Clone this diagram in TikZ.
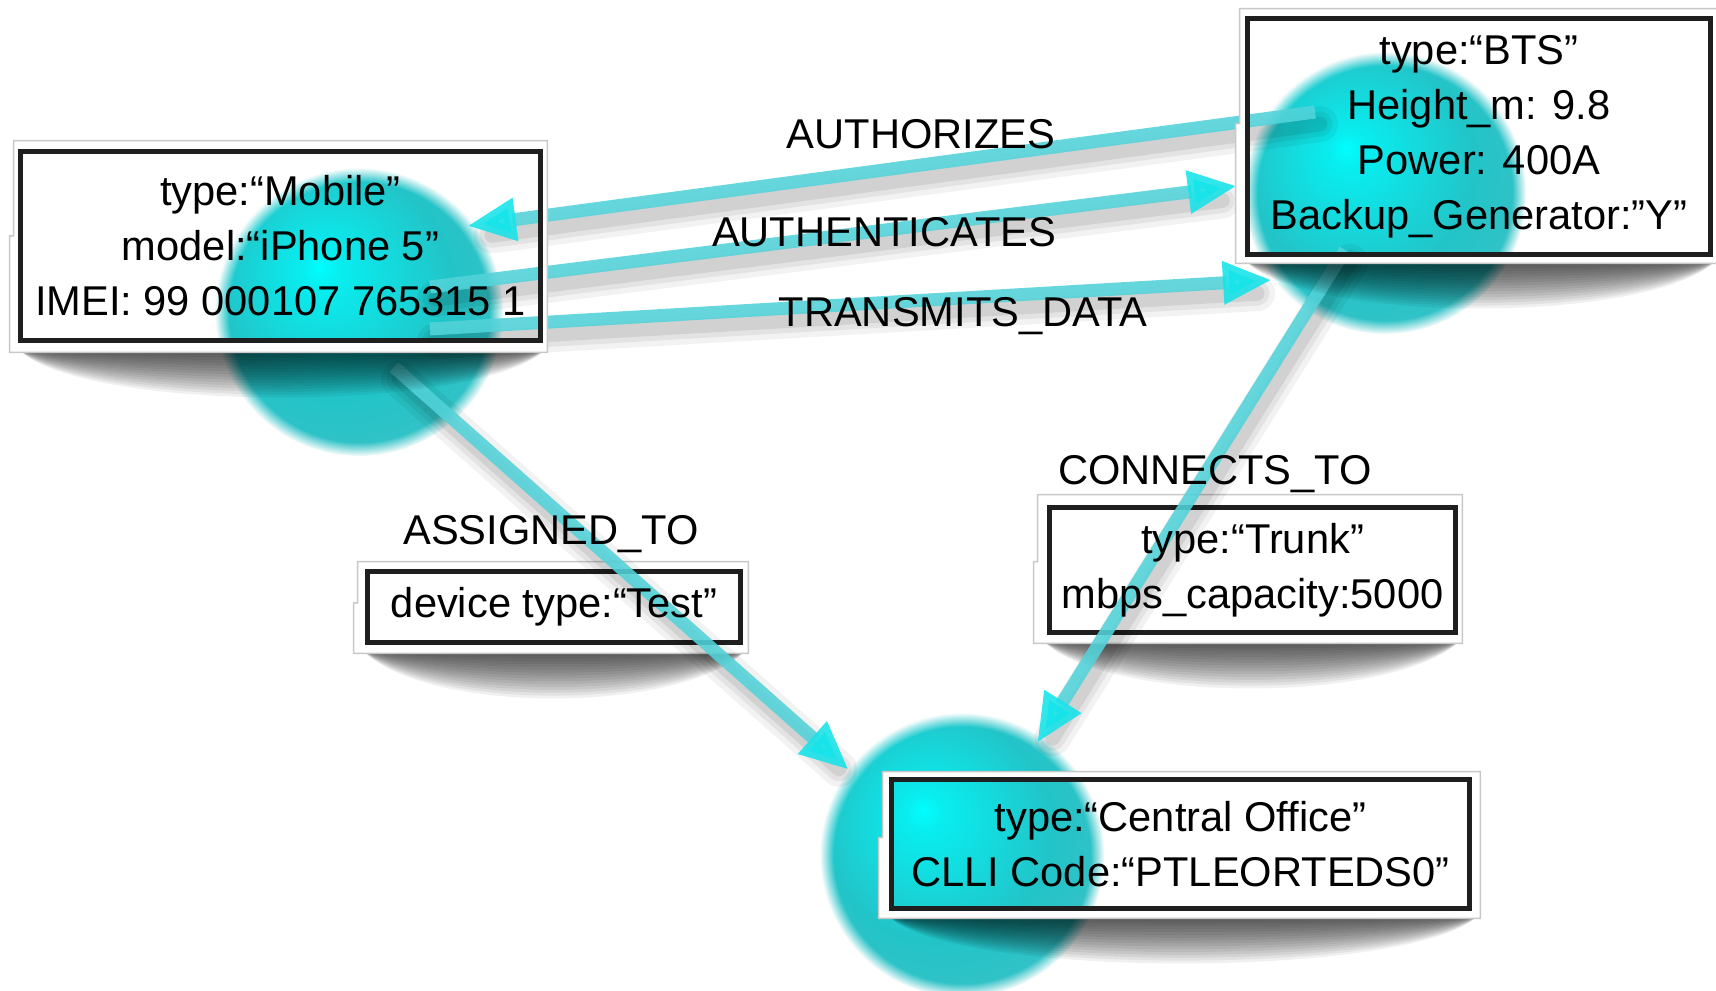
\documentclass[tikz,border=0pt]{standalone}
\usepackage{fontspec}
\setmainfont{Liberation Sans}
\usetikzlibrary{arrows.meta,fadings,calc}

\definecolor{ballhi}{RGB}{0,255,255}
\definecolor{ballhi2}{RGB}{8,238,240}
\definecolor{ballmid}{RGB}{34,196,200}
\definecolor{ballrim}{RGB}{78,190,195}
\definecolor{lnc}{RGB}{82,212,218}
\definecolor{headc}{RGB}{22,228,233}
\definecolor{framegray}{RGB}{200,200,200}

% glossy ball: small highlight up and to the left of the centre
\pgfdeclareradialshading{ballshade}{\pgfpoint{-7bp}{8bp}}{%
  color(0bp)=(ballhi); color(3bp)=(ballhi2); color(20bp)=(ballmid);
  color(42bp)=(ballrim); color(50bp)=(ballrim)}

\pgfdeclarelayer{balls}
\pgfdeclarelayer{props}
\pgfdeclarelayer{links}
\pgfdeclarelayer{frames}
\pgfsetlayers{balls,props,links,frames,main}

% #1 card node, #2..#5 extra white margin left, top, right, bottom (px)
\newcommand{\cardframe}[5]{%
  \coordinate (#1onw) at ($(#1.north west)+(-#2,-#3)$);
  \coordinate (#1ose) at ($(#1.south east)+(#4,#5)$);
  \coordinate (#1osw) at (#1onw |- #1ose);
  \coordinate (#1one) at (#1onw -| #1ose);
  \coordinate (#1nk) at ($(#1onw)!0.45!(#1osw)$);
  % soft shadow under the card: stacked lenses, darkest next to the card
  \foreach \k in {1,...,16}{
    \fill[black, opacity=0.06]
      ($(#1osw)+(6,-2)$) -- ($(#1ose)+(-3,-2)$)
      .. controls ($(#1ose)+(-70,3.8*\k)$) and ($(#1osw)+(70,3.8*\k)$) .. ($(#1osw)+(6,-2)$) -- cycle;
  }
  % white card with a small step on its left side, open in the middle
  \fill[white, even odd rule]
    (#1onw) -- (#1one) -- (#1ose) -- ($(#1osw)+(-4,0)$) -- ($(#1nk)+(-4,0)$) -- (#1nk) -- cycle
    (#1.north west) rectangle (#1.south east);
  \draw[framegray, line width=0.03cm]
    (#1onw) -- (#1one) -- (#1ose) -- ($(#1osw)+(-4,0)$) -- ($(#1nk)+(-4,0)$) -- (#1nk) -- cycle;
  \draw[black!88, line width=0.09cm] (#1.north west) rectangle (#1.south east);
}

\newcommand{\glossyball}[2]{%
  \shade[shading=ballshade, path fading=circle with fuzzy edge 10 percent]
    (#1) circle[radius=#2];
}

\begin{document}
\begin{tikzpicture}[x=0.02cm, y=-0.02cm,
  every node/.style={inner sep=0pt, font=\fontsize{23.7}{31.3}\selectfont},
  card/.style={align=center},
  tag/.style={anchor=base},
  link/.style={draw=lnc, line width=0.26cm, opacity=0.88,
     -{Triangle[length=0.98cm, width=0.8cm, color=headc]}},
  linkshadow/.style={draw=black, line cap=round, shorten >=0.4cm,
     transform canvas={shift={(0.1cm,-0.24cm)}}}]

\useasboundingbox (0,0) rectangle (1716,990);

% property cards
\node[card, minimum width=10.38cm, minimum height=3.76cm] (mobile) at (280.5,246)
  {type:“Mobile”\\model:“iPhone 5”\\IMEI: 99 000107 765315 1};
\node[card, minimum width=9.24cm, minimum height=4.7cm] (bts) at (1479,136.5)
  {type:“BTS”\\Height\_m: 9.8\\Power: 400A\\Backup\_Generator:”Y”};
\node[card, minimum width=11.54cm, minimum height=2.56cm] (co) at (1180.5,844)
  {type:“Central Office”\\CLLI Code:“PTLEORTEDS0”};
\node[card, minimum width=7.44cm, minimum height=1.4cm] (dev) at (554,607)
  {device type:“Test”};
\node[card, minimum width=8.1cm, minimum height=2.48cm] (trunk) at (1252.5,570)
  {type:“Trunk”\\mbps\_capacity:5000};

% relationship names
\node[tag] (authzlbl) at (921,148) {AUTHORIZES};
\node[tag] (authnlbl) at (884,246) {AUTHENTICATES};
\node[tag] (translbl) at (963,326) {TRANSMITS\_DATA};
\node[tag] (assignlbl) at (551,544) {ASSIGNED\_TO};
\node[tag] (connlbl) at (1215,484) {CONNECTS\_TO};

% ball centres and link ends
\coordinate (mobileball) at (359,312);
\coordinate (btsball) at (1385,193);
\coordinate (coball) at (962,855);
\coordinate (authzA) at (1315,112);  \coordinate (authzB) at (467,226);
\coordinate (authnA) at (430,287);   \coordinate (authnB) at (1237,186);
\coordinate (transA) at (430,329);   \coordinate (transB) at (1272,280);
\coordinate (assignA) at (394,367);  \coordinate (assignB) at (849,770);
\coordinate (connA) at (1345,250);   \coordinate (connB) at (1037,743);

\begin{pgfonlayer}{balls}
  \fill[white] (0,0) rectangle (1716,990);
  \glossyball{mobileball}{2.88cm}
  \glossyball{btsball}{2.82cm}
  \glossyball{coball}{2.84cm}
\end{pgfonlayer}

\begin{pgfonlayer}{props}
  \cardframe{dev}{10}{10}{8}{11}
  \cardframe{trunk}{12}{13}{7}{11}
\end{pgfonlayer}

\begin{pgfonlayer}{links}
  \foreach \a/\b in {authzA/authzB, authnA/authnB, transA/transB, assignA/assignB, connA/connB}{
    \foreach \w/\o in {0.72/0.05, 0.5/0.06, 0.3/0.08}
      \draw[linkshadow, line width=\w cm, opacity=\o] (\a) -- (\b);
  }
  \draw[link] (authzA) -- (authzB);
  \draw[link] (authnA) -- (authnB);
  \draw[link] (transA) -- (transB);
  \draw[link] (assignA) -- (assignB);
  \draw[link] (connA) -- (connB);
\end{pgfonlayer}

\begin{pgfonlayer}{frames}
  \cardframe{mobile}{7}{11}{7}{12}
  \cardframe{bts}{8}{10}{8}{9}
  \cardframe{co}{9}{8}{11}{10}
\end{pgfonlayer}
\end{tikzpicture}
\end{document}
